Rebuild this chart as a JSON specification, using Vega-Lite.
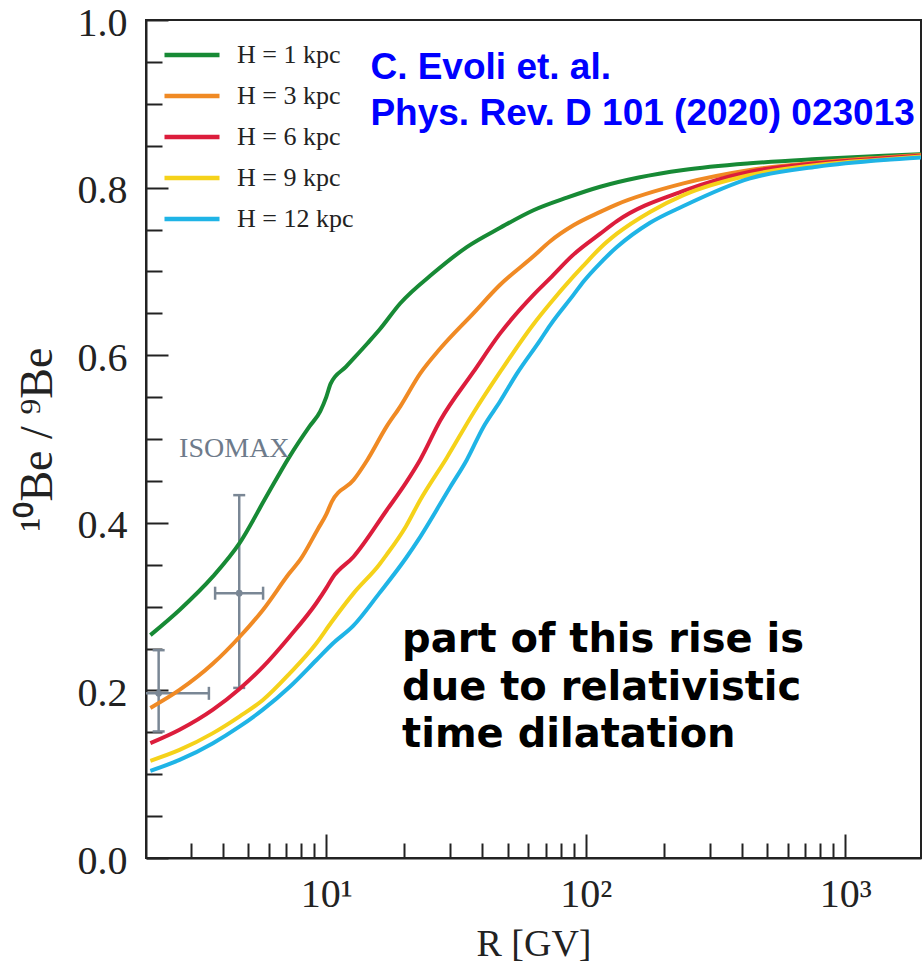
{
  "$schema": "https://vega.github.io/schema/vega-lite/v6.json",
  "width": 775,
  "height": 838,
  "autosize": {"type": "none"},
  "padding": {"left": 146, "top": 20, "right": 2, "bottom": 110},
  "background": "white",
  "config": {
    "view": {"stroke": "#222", "strokeWidth": 2},
    "axis": {"grid": false, "domainColor": "#222", "domainWidth": 2, "tickColor": "#222", "tickWidth": 2,
      "labelFont": "Liberation Serif", "labelFontSize": 40, "labelColor": "#222", "labelFlush": false, "labelOverlap": false, "labelBound": false,
      "titleFont": "Liberation Serif", "titleFontWeight": "normal", "titleColor": "#222"}
  },
  "datasets": {
    "curves": [
      {"H": "H = 1 kpc", "R": 2.1, "v": 0.266}, {"H": "H = 1 kpc", "R": 2.72, "v": 0.296}, {"H": "H = 1 kpc", "R": 3.66, "v": 0.336}, {"H": "H = 1 kpc", "R": 4.64, "v": 0.376}, {"H": "H = 1 kpc", "R": 5.87, "v": 0.431}, {"H": "H = 1 kpc", "R": 7.22, "v": 0.479}, {"H": "H = 1 kpc", "R": 8.62, "v": 0.515}, {"H": "H = 1 kpc", "R": 9.48, "v": 0.533}, {"H": "H = 1 kpc", "R": 10.0, "v": 0.550}, {"H": "H = 1 kpc", "R": 10.4, "v": 0.566}, {"H": "H = 1 kpc", "R": 11.9, "v": 0.586}, {"H": "H = 1 kpc", "R": 14.4, "v": 0.614}, {"H": "H = 1 kpc", "R": 16.0, "v": 0.630}, {"H": "H = 1 kpc", "R": 19.3, "v": 0.662}, {"H": "H = 1 kpc", "R": 25.9, "v": 0.698}, {"H": "H = 1 kpc", "R": 34.8, "v": 0.729}, {"H": "H = 1 kpc", "R": 46.8, "v": 0.752}, {"H": "H = 1 kpc", "R": 62.9, "v": 0.773}, {"H": "H = 1 kpc", "R": 84.6, "v": 0.788}, {"H": "H = 1 kpc", "R": 113.8, "v": 0.801}, {"H": "H = 1 kpc", "R": 160, "v": 0.812}, {"H": "H = 1 kpc", "R": 238, "v": 0.821}, {"H": "H = 1 kpc", "R": 430, "v": 0.829}, {"H": "H = 1 kpc", "R": 778, "v": 0.834}, {"H": "H = 1 kpc", "R": 1406, "v": 0.838}, {"H": "H = 1 kpc", "R": 1960, "v": 0.840},
      {"H": "H = 3 kpc", "R": 2.1, "v": 0.179}, {"H": "H = 3 kpc", "R": 2.72, "v": 0.2005}, {"H": "H = 3 kpc", "R": 3.66, "v": 0.232}, {"H": "H = 3 kpc", "R": 4.64, "v": 0.264}, {"H": "H = 3 kpc", "R": 5.70, "v": 0.296}, {"H": "H = 3 kpc", "R": 7.22, "v": 0.340}, {"H": "H = 3 kpc", "R": 7.94, "v": 0.356}, {"H": "H = 3 kpc", "R": 9.3, "v": 0.393}, {"H": "H = 3 kpc", "R": 10.0, "v": 0.410}, {"H": "H = 3 kpc", "R": 10.5, "v": 0.425}, {"H": "H = 3 kpc", "R": 12.74, "v": 0.451}, {"H": "H = 3 kpc", "R": 14.4, "v": 0.475}, {"H": "H = 3 kpc", "R": 17.1, "v": 0.515}, {"H": "H = 3 kpc", "R": 19.3, "v": 0.539}, {"H": "H = 3 kpc", "R": 23.0, "v": 0.578}, {"H": "H = 3 kpc", "R": 27.5, "v": 0.608}, {"H": "H = 3 kpc", "R": 36.9, "v": 0.650}, {"H": "H = 3 kpc", "R": 46.8, "v": 0.684}, {"H": "H = 3 kpc", "R": 62.9, "v": 0.718}, {"H": "H = 3 kpc", "R": 73, "v": 0.736}, {"H": "H = 3 kpc", "R": 89.7, "v": 0.755}, {"H": "H = 3 kpc", "R": 113.8, "v": 0.771}, {"H": "H = 3 kpc", "R": 131.9, "v": 0.780}, {"H": "H = 3 kpc", "R": 238, "v": 0.805}, {"H": "H = 3 kpc", "R": 430, "v": 0.821}, {"H": "H = 3 kpc", "R": 778, "v": 0.830}, {"H": "H = 3 kpc", "R": 1406, "v": 0.836}, {"H": "H = 3 kpc", "R": 1960, "v": 0.839},
      {"H": "H = 6 kpc", "R": 2.1, "v": 0.137}, {"H": "H = 6 kpc", "R": 2.72, "v": 0.153}, {"H": "H = 6 kpc", "R": 3.66, "v": 0.177}, {"H": "H = 6 kpc", "R": 4.64, "v": 0.202}, {"H": "H = 6 kpc", "R": 5.70, "v": 0.228}, {"H": "H = 6 kpc", "R": 7.22, "v": 0.264}, {"H": "H = 6 kpc", "R": 9.15, "v": 0.304}, {"H": "H = 6 kpc", "R": 10.0, "v": 0.322}, {"H": "H = 6 kpc", "R": 10.6, "v": 0.335}, {"H": "H = 6 kpc", "R": 12.74, "v": 0.3595}, {"H": "H = 6 kpc", "R": 17.1, "v": 0.415}, {"H": "H = 6 kpc", "R": 20.3, "v": 0.448}, {"H": "H = 6 kpc", "R": 23.0, "v": 0.475}, {"H": "H = 6 kpc", "R": 27.5, "v": 0.522}, {"H": "H = 6 kpc", "R": 36.9, "v": 0.580}, {"H": "H = 6 kpc", "R": 46.8, "v": 0.626}, {"H": "H = 6 kpc", "R": 62.9, "v": 0.672}, {"H": "H = 6 kpc", "R": 73, "v": 0.692}, {"H": "H = 6 kpc", "R": 89.7, "v": 0.720}, {"H": "H = 6 kpc", "R": 113.8, "v": 0.745}, {"H": "H = 6 kpc", "R": 131.9, "v": 0.760}, {"H": "H = 6 kpc", "R": 238, "v": 0.796}, {"H": "H = 6 kpc", "R": 430, "v": 0.819}, {"H": "H = 6 kpc", "R": 778, "v": 0.829}, {"H": "H = 6 kpc", "R": 1406, "v": 0.835}, {"H": "H = 6 kpc", "R": 1960, "v": 0.838},
      {"H": "H = 9 kpc", "R": 2.1, "v": 0.116}, {"H": "H = 9 kpc", "R": 2.72, "v": 0.129}, {"H": "H = 9 kpc", "R": 3.66, "v": 0.149}, {"H": "H = 9 kpc", "R": 4.64, "v": 0.169}, {"H": "H = 9 kpc", "R": 5.70, "v": 0.1885}, {"H": "H = 9 kpc", "R": 7.22, "v": 0.220}, {"H": "H = 9 kpc", "R": 9.15, "v": 0.256}, {"H": "H = 9 kpc", "R": 10.45, "v": 0.281}, {"H": "H = 9 kpc", "R": 12.74, "v": 0.3158}, {"H": "H = 9 kpc", "R": 16.0, "v": 0.350}, {"H": "H = 9 kpc", "R": 17.1, "v": 0.362}, {"H": "H = 9 kpc", "R": 20.3, "v": 0.396}, {"H": "H = 9 kpc", "R": 23.0, "v": 0.427}, {"H": "H = 9 kpc", "R": 29.2, "v": 0.478}, {"H": "H = 9 kpc", "R": 36.9, "v": 0.531}, {"H": "H = 9 kpc", "R": 46.8, "v": 0.580}, {"H": "H = 9 kpc", "R": 62.9, "v": 0.637}, {"H": "H = 9 kpc", "R": 73, "v": 0.662}, {"H": "H = 9 kpc", "R": 89.7, "v": 0.694}, {"H": "H = 9 kpc", "R": 98.1, "v": 0.707}, {"H": "H = 9 kpc", "R": 113.8, "v": 0.728}, {"H": "H = 9 kpc", "R": 131.9, "v": 0.745}, {"H": "H = 9 kpc", "R": 177, "v": 0.771}, {"H": "H = 9 kpc", "R": 238, "v": 0.791}, {"H": "H = 9 kpc", "R": 430, "v": 0.815}, {"H": "H = 9 kpc", "R": 778, "v": 0.827}, {"H": "H = 9 kpc", "R": 1406, "v": 0.8336}, {"H": "H = 9 kpc", "R": 1960, "v": 0.837},
      {"H": "H = 12 kpc", "R": 2.1, "v": 0.104}, {"H": "H = 12 kpc", "R": 2.72, "v": 0.117}, {"H": "H = 12 kpc", "R": 3.66, "v": 0.137}, {"H": "H = 12 kpc", "R": 4.64, "v": 0.157}, {"H": "H = 12 kpc", "R": 5.70, "v": 0.177}, {"H": "H = 12 kpc", "R": 7.22, "v": 0.204}, {"H": "H = 12 kpc", "R": 9.15, "v": 0.236}, {"H": "H = 12 kpc", "R": 10.6, "v": 0.256}, {"H": "H = 12 kpc", "R": 12.7, "v": 0.277}, {"H": "H = 12 kpc", "R": 16.0, "v": 0.3158}, {"H": "H = 12 kpc", "R": 20.3, "v": 0.358}, {"H": "H = 12 kpc", "R": 23.0, "v": 0.383}, {"H": "H = 12 kpc", "R": 30.1, "v": 0.443}, {"H": "H = 12 kpc", "R": 34.8, "v": 0.475}, {"H": "H = 12 kpc", "R": 40.4, "v": 0.5147}, {"H": "H = 12 kpc", "R": 46.8, "v": 0.545}, {"H": "H = 12 kpc", "R": 54.3, "v": 0.578}, {"H": "H = 12 kpc", "R": 66.8, "v": 0.618}, {"H": "H = 12 kpc", "R": 73, "v": 0.636}, {"H": "H = 12 kpc", "R": 89.7, "v": 0.672}, {"H": "H = 12 kpc", "R": 98.1, "v": 0.688}, {"H": "H = 12 kpc", "R": 113.8, "v": 0.710}, {"H": "H = 12 kpc", "R": 131.9, "v": 0.729}, {"H": "H = 12 kpc", "R": 177, "v": 0.758}, {"H": "H = 12 kpc", "R": 238, "v": 0.778}, {"H": "H = 12 kpc", "R": 430, "v": 0.811}, {"H": "H = 12 kpc", "R": 778, "v": 0.825}, {"H": "H = 12 kpc", "R": 1406, "v": 0.833}, {"H": "H = 12 kpc", "R": 1960, "v": 0.836}
    ],
    "isomax": [
      {"R": 2.26, "Rlo": 1.45, "Rhi": 3.53, "v": 0.1965, "vlo": 0.151, "vhi": 0.248},
      {"R": 4.62, "Rlo": 3.73, "Rhi": 5.71, "v": 0.316, "vlo": 0.203, "vhi": 0.433}
    ],
    "one": [{}]
  },
  "layer": [
    {
      "data": {"name": "isomax"},
      "mark": {"type": "rule", "color": "#7a8795", "strokeWidth": 2.5, "clip": true},
      "encoding": {
        "x": {"field": "Rlo", "type": "quantitative", "scale": {"type": "log", "domain": [2.02, 1960], "nice": false}, "title": "R [GV]"},
        "x2": {"field": "Rhi"},
        "y": {"field": "v", "type": "quantitative", "scale": {"domain": [0, 1], "nice": false}, "title": "¹⁰Be / ⁹Be"}
      }
    },
    {
      "data": {"name": "isomax"},
      "mark": {"type": "rule", "color": "#7a8795", "strokeWidth": 2.5, "clip": true},
      "encoding": {
        "x": {"field": "R", "type": "quantitative", "scale": {"type": "log", "domain": [2.02, 1960], "nice": false}, "title": "R [GV]"},
        "y": {"field": "vlo", "type": "quantitative", "scale": {"domain": [0, 1], "nice": false}, "title": "¹⁰Be / ⁹Be"},
        "y2": {"field": "vhi"}
      }
    },
    {
      "data": {"name": "isomax"},
      "mark": {"type": "tick", "color": "#7a8795", "orient": "vertical", "size": 13, "thickness": 2.5, "clip": true, "opacity": 1},
      "encoding": {
        "x": {"field": "Rhi", "type": "quantitative", "scale": {"type": "log", "domain": [2.02, 1960], "nice": false}, "title": "R [GV]"},
        "y": {"field": "v", "type": "quantitative", "scale": {"domain": [0, 1], "nice": false}, "title": "¹⁰Be / ⁹Be"}
      }
    },
    {
      "data": {"name": "isomax"},
      "mark": {"type": "tick", "color": "#7a8795", "orient": "vertical", "size": 13, "thickness": 2.5, "clip": true, "opacity": 1},
      "encoding": {
        "x": {"field": "Rlo", "type": "quantitative", "scale": {"type": "log", "domain": [2.02, 1960], "nice": false}, "title": "R [GV]"},
        "y": {"field": "v", "type": "quantitative", "scale": {"domain": [0, 1], "nice": false}, "title": "¹⁰Be / ⁹Be"}
      }
    },
    {
      "data": {"name": "isomax"},
      "mark": {"type": "tick", "color": "#7a8795", "orient": "horizontal", "size": 12, "thickness": 2.5, "clip": true, "opacity": 1},
      "encoding": {
        "x": {"field": "R", "type": "quantitative", "scale": {"type": "log", "domain": [2.02, 1960], "nice": false}, "title": "R [GV]"},
        "y": {"field": "vhi", "type": "quantitative", "scale": {"domain": [0, 1], "nice": false}, "title": "¹⁰Be / ⁹Be"}
      }
    },
    {
      "data": {"name": "isomax"},
      "mark": {"type": "tick", "color": "#7a8795", "orient": "horizontal", "size": 12, "thickness": 2.5, "clip": true, "opacity": 1},
      "encoding": {
        "x": {"field": "R", "type": "quantitative", "scale": {"type": "log", "domain": [2.02, 1960], "nice": false}, "title": "R [GV]"},
        "y": {"field": "vlo", "type": "quantitative", "scale": {"domain": [0, 1], "nice": false}, "title": "¹⁰Be / ⁹Be"}
      }
    },
    {
      "data": {"name": "isomax"},
      "mark": {"type": "point", "filled": true, "color": "#7a8795", "size": 45, "opacity": 1, "clip": true},
      "encoding": {
        "x": {"field": "R", "type": "quantitative", "scale": {"type": "log", "domain": [2.02, 1960], "nice": false}, "title": "R [GV]"},
        "y": {"field": "v", "type": "quantitative", "scale": {"domain": [0, 1], "nice": false}, "title": "¹⁰Be / ⁹Be"}
      }
    },
    {
      "data": {"name": "curves"},
      "mark": {"type": "line", "strokeWidth": 4, "interpolate": "monotone", "clip": true},
      "encoding": {
        "x": {"field": "R", "type": "quantitative", "scale": {"type": "log", "domain": [2.02, 1960], "nice": false}, "title": "R [GV]",
          "axis": {"values": [3, 4, 5, 6, 7, 8, 9, 10, 20, 30, 40, 50, 60, 70, 80, 90, 100, 200, 300, 400, 500, 600, 700, 800, 900, 1000],
            "labelExpr": "datum.value == 10 ? '10¹' : datum.value == 100 ? '10²' : datum.value == 1000 ? '10³' : ''",
            "tickSize": {"condition": {"test": "datum.value == 10 || datum.value == 100 || datum.value == 1000", "value": -24}, "value": -15},
            "labelPadding": 40, "titleFontSize": 38, "titlePadding": 2}},
        "y": {"field": "v", "type": "quantitative", "scale": {"domain": [0, 1], "nice": false}, "title": "¹⁰Be / ⁹Be",
          "axis": {"values": [0, 0.05, 0.1, 0.15, 0.2, 0.25, 0.3, 0.35, 0.4, 0.45, 0.5, 0.55, 0.6, 0.65, 0.7, 0.75, 0.8, 0.85, 0.9, 0.95, 1.0],
            "labelExpr": "abs(datum.value * 5 - round(datum.value * 5)) < 0.001 ? format(datum.value, '.1f') : ''",
            "tickSize": {"condition": {"test": "abs(datum.value * 5 - round(datum.value * 5)) < 0.001", "value": -22}, "value": -16},
            "labelPadding": 41, "labelOffset": 3, "titleFontSize": 46, "titlePadding": 16}},
        "color": {"field": "H", "type": "nominal",
          "scale": {"domain": ["H = 1 kpc", "H = 3 kpc", "H = 6 kpc", "H = 9 kpc", "H = 12 kpc"], "range": ["#178a35", "#f08a24", "#dc1d3c", "#f5d21a", "#1fb4e6"]},
          "legend": {"orient": "none", "legendX": 16, "legendY": 25, "title": null, "symbolType": "stroke", "symbolSize": 3025, "symbolStrokeWidth": 4.5,
            "clipHeight": 20, "rowPadding": 15, "labelFont": "Liberation Serif", "labelFontSize": 26, "labelColor": "#222", "labelOffset": 15, "padding": 0, "labelLimit": 300}}
      }
    },
    {
      "data": {"name": "one"},
      "mark": {"type": "text", "text": "ISOMAX", "font": "Liberation Serif", "fontSize": 28, "color": "#6e7b8b", "align": "left", "baseline": "alphabetic"},
      "encoding": {"x": {"datum": 2.71}, "y": {"datum": 0.4785}}
    },
    {
      "data": {"name": "one"},
      "mark": {"type": "text", "text": ["C. Evoli et. al.", "Phys. Rev. D 101 (2020) 023013"], "font": "Liberation Sans", "fontWeight": "bold", "fontSize": 37, "color": "#0000ff", "align": "left", "baseline": "alphabetic", "lineHeight": 46.5},
      "encoding": {"x": {"datum": 14.8}, "y": {"datum": 0.930}}
    },
    {
      "data": {"name": "one"},
      "mark": {"type": "text", "text": ["part of this rise is", "due to relativistic", "time dilatation"], "font": "DejaVu Sans", "fontWeight": "bold", "fontSize": 40, "color": "#000000", "align": "left", "baseline": "alphabetic", "lineHeight": 47.5},
      "encoding": {"x": {"datum": 19.6}, "y": {"datum": 0.2458}}
    }
  ]
}
